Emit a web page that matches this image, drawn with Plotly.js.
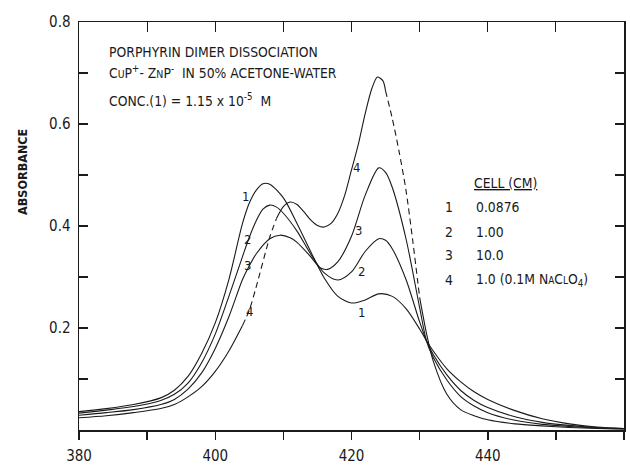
<!DOCTYPE html>
<html>
<head>
<meta charset="utf-8">
<script src="https://cdn.plot.ly/plotly-3.0.1.min.js"></script>
<style>html,body{margin:0;padding:0;background:#fff;}#chart{width:630px;height:465px;}</style>
</head>
<body>
<div id="chart"></div>
<script>
// ---- data ----
var wl1 = [380,384,388,392,394,396,398,400,402,404,405,406,407,408,410,412,414,416,418,420,422,424,426,428,430,431,432,434,436,438,440,444,448,452,456,460];
var ab1 = [0.036,0.042,0.050,0.063,0.078,0.105,0.150,0.210,0.295,0.405,0.445,0.470,0.483,0.482,0.455,0.405,0.350,0.298,0.262,0.249,0.255,0.267,0.262,0.238,0.198,0.175,0.155,0.120,0.095,0.075,0.060,0.038,0.022,0.012,0.006,0.003];

var wl2 = [380,384,388,392,394,396,398,400,402,404,405,406,407,408,409,410,412,414,416,418,420,422,424,425,426,428,430,431,432,434,436,438,440,444,448,452,456,460];
var ab2 = [0.033,0.039,0.046,0.058,0.070,0.092,0.132,0.188,0.262,0.340,0.378,0.410,0.433,0.441,0.437,0.425,0.390,0.345,0.308,0.294,0.310,0.350,0.375,0.372,0.355,0.295,0.212,0.175,0.148,0.108,0.078,0.058,0.044,0.026,0.015,0.009,0.005,0.003];

var wl3 = [380,384,388,392,394,396,398,400,402,404,405,406,408,409.5,411,412,414,415.4,416.5,418,420,422,424,425,426,428,430,431,432,434,436,438,440,444,448,452,456,460];
var ab3 = [0.029,0.034,0.040,0.050,0.060,0.080,0.112,0.160,0.222,0.295,0.322,0.345,0.375,0.382,0.377,0.368,0.340,0.318,0.315,0.330,0.380,0.460,0.514,0.505,0.475,0.375,0.240,0.175,0.142,0.098,0.066,0.047,0.034,0.019,0.011,0.007,0.004,0.002];

var wl4 = [380,384,388,392,394,396,398,400,402,404,405,406,408,409,410,411,412,413,414,415,416,417,418,419,420,421,422,423,423.8,424.6,425,426,427,428,429,430,431,432,434,436,438,440,444,448,452,456,460];
var ab4 = [0.024,0.028,0.034,0.042,0.050,0.065,0.085,0.115,0.155,0.205,0.235,0.280,0.378,0.415,0.438,0.447,0.442,0.428,0.412,0.401,0.398,0.405,0.425,0.460,0.510,0.560,0.620,0.670,0.692,0.685,0.665,0.610,0.545,0.470,0.370,0.260,0.190,0.135,0.070,0.040,0.028,0.020,0.012,0.008,0.005,0.003,0.002];

// dashed stretches of curve 4 (wavelength ranges)
var dash4 = [[404,409],[425,430]];

var xTickVals = [380,400,420,440,460];
var xTickText = ['380','400','420','440','460'];
var yTickVals = [0.2,0.4,0.6,0.8];
var yTickText = ['0.2','0.4','0.6','0.8'];

var curveLabels = ['1','2','3','4'];
var labelLeftX = [404.4,404.8,404.7,405.1];
var labelLeftY = [0.457,0.373,0.322,0.233];
var labelRightX = [421.5,421.4,421.0,420.8];
var labelRightY = [0.231,0.310,0.392,0.514];

var cellNums = ['1','2','3','4'];
var cellVals = ['0.0876','1.00','10.0','1.0 (0.1M N<span style="font-size:10px">A</span>C<span style="font-size:10px">L</span>O<sub>4</sub>)'];

// ---- drawing ----
var FONT = '"DejaVu Sans Condensed", "Liberation Sans Narrow", "Arial Narrow", sans-serif';
var INK = '#1a1a1a';

function lineTrace(x, y, dash) {
  return {x: x, y: y, type: 'scatter', mode: 'lines', hoverinfo: 'skip', showlegend: false,
          line: {color: INK, width: 1.1, shape: 'spline', smoothing: 0.8, dash: dash || 'solid'}};
}
function sliceRange(x, y, lo, hi) {
  var xs = [], ys = [];
  for (var i = 0; i < x.length; i++) { if (x[i] >= lo && x[i] <= hi) { xs.push(x[i]); ys.push(y[i]); } }
  return [xs, ys];
}

var traces = [lineTrace(wl1, ab1), lineTrace(wl2, ab2), lineTrace(wl3, ab3)];
var bounds = [wl4[0]];
dash4.forEach(function (d) { bounds.push(d[0]); bounds.push(d[1]); });
bounds.push(wl4[wl4.length - 1]);
for (var k = 0; k < bounds.length - 1; k++) {
  var seg = sliceRange(wl4, ab4, bounds[k], bounds[k + 1]);
  traces.push(lineTrace(seg[0], seg[1], (k % 2 === 1) ? '6px,4px' : 'solid'));
}
var topCarrier = lineTrace(wl1, ab1);
topCarrier.xaxis = 'x2'; topCarrier.line.width = 0; topCarrier.opacity = 0;
traces.push(topCarrier);

var ann = [];
function txt(x, y, text, opts) {
  var a = {xref: 'paper', yref: 'paper', x: x, y: y, text: text, showarrow: false,
           xanchor: 'left', yanchor: 'middle', font: {family: FONT, size: 13.8, color: INK}};
  for (var key in opts) a[key] = opts[key];
  ann.push(a);
}
txt(0.051, 0.926, 'PORPHYRIN DIMER DISSOCIATION');
txt(0.051, 0.877, 'C<span style="font-size:10.5px">U</span>P<sup>+</sup>- Z<span style="font-size:10.5px">N</span>P<sup>-</sup>  IN 50% ACETONE-WATER');
txt(0.051, 0.809, 'CONC.(1) = 1.15 x 10<sup>-5</sup>  M');
txt(0.721, 0.605, '<u>CELL (CM)</u>');
var rowY = [0.547, 0.485, 0.429, 0.368];
for (var i = 0; i < cellNums.length; i++) {
  txt(0.679, rowY[i], cellNums[i], {xanchor: 'center'});
  txt(0.725, rowY[i], cellVals[i]);
}
txt(-0.105, 0.632, '<b>ABSORBANCE</b>', {textangle: -90, xanchor: 'center', font: {family: FONT, size: 12.5, color: INK}});
for (var j = 0; j < curveLabels.length; j++) {
  ann.push({x: labelLeftX[j], y: labelLeftY[j], xref: 'x', yref: 'y', text: curveLabels[j], showarrow: false,
            font: {family: FONT, size: 13, color: INK}});
  ann.push({x: labelRightX[j], y: labelRightY[j], xref: 'x', yref: 'y', text: curveLabels[j], showarrow: false,
            font: {family: FONT, size: 13, color: INK}});
}

var layout = {
  width: 630, height: 465,
  margin: {l: 79, r: 6, t: 22, b: 35, pad: 0},
  paper_bgcolor: '#fff', plot_bgcolor: '#fff',
  showlegend: false,
  xaxis: {range: [380, 460], tickmode: 'array', tickvals: xTickVals, ticktext: xTickText,
          ticks: 'outside', ticklen: 8, tickwidth: 1.5, tickcolor: INK,
          minor: {tickmode: 'linear', tick0: 380, dtick: 10, ticks: 'outside', ticklen: 8, tickwidth: 1.5, tickcolor: INK},
          showline: true, linewidth: 2, linecolor: INK, showgrid: false, zeroline: false,
          tickfont: {family: FONT, size: 15, color: INK}, ticklabelstandoff: 3},
  xaxis2: {range: [380, 460], overlaying: 'x', side: 'top', anchor: 'y', tickmode: 'linear', tick0: 380, dtick: 10,
           ticks: 'inside', ticklen: 10, tickwidth: 1.2, tickcolor: INK, showticklabels: false,
           showline: true, linewidth: 1.3, linecolor: INK, showgrid: false, zeroline: false},
  yaxis: {range: [0, 0.8], tickmode: 'array', tickvals: yTickVals, ticktext: yTickText,
          ticks: 'inside', ticklen: 9, tickwidth: 1.5, tickcolor: INK, mirror: 'ticks',
          minor: {tickmode: 'linear', tick0: 0, dtick: 0.1, ticks: 'inside', ticklen: 9, tickwidth: 1.5, tickcolor: INK},
          showline: true, linewidth: 1.5, linecolor: INK, showgrid: false, zeroline: false,
          tickfont: {family: FONT, size: 15, color: INK}, ticklabelstandoff: 4},
  annotations: ann
};

Plotly.newPlot('chart', traces, layout, {staticPlot: true});
</script>
</body>
</html>
